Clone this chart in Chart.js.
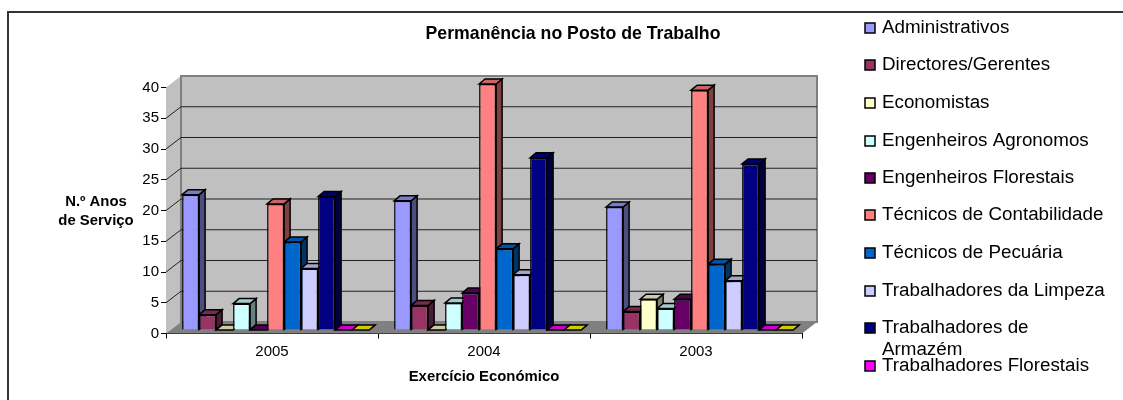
<!DOCTYPE html>
<html>
<head>
<meta charset="utf-8">
<script src="https://cdn.jsdelivr.net/npm/chart.js@4"></script>
<style>
  html, body { margin: 0; padding: 0; background: #fff; }
  canvas { display: block; }
</style>
</head>
<body>
<canvas id="chart" width="1123" height="400"></canvas>
<script>
const chartTitle = 'Permanência no Posto de Trabalho';
const xTitle = 'Exercício Económico';
const yTitleLines = ['N.º Anos', 'de Serviço'];
const years = ['2005', '2004', '2003'];

const administrativos = [22, 21, 20];
const directores = [2.5, 4, 3];
const economistas = [0, 0, 5];
const agronomos = [4.3, 4.4, 3.5];
const florestais = [0, 6, 5];
const contabilidade = [20.5, 40, 39];
const pecuaria = [14.3, 13.2, 10.7];
const limpeza = [10, 9, 8];
const armazem = [21.7, 28, 27];
const trabFlorestais = [0, 0, 0];
const semNome = [0, 0, 0];

const seriesNames = ['Administrativos', 'Directores/Gerentes', 'Economistas', 'Engenheiros Agronomos',
    'Engenheiros Florestais', 'Técnicos de Contabilidade', 'Técnicos de Pecuária',
    'Trabalhadores da Limpeza', 'Trabalhadores de Armazém', 'Trabalhadores Florestais', ''];
const seriesValues = [administrativos, directores, economistas, agronomos, florestais, contabilidade,
    pecuaria, limpeza, armazem, trabFlorestais, semNome];
const seriesColors = ['#9999ff', '#993366', '#ffffcc', '#ccffff', '#660066', '#ff8080',
    '#0066cc', '#ccccff', '#000080', '#ff00ff', '#ffff00'];
// legend rows: text centre y, the wrapped entry has two lines
const legendRows = [28, 65, 103, 141, 178, 215, 253, 291, 328, 366];

const FONT = '"Liberation Sans", Arial, sans-serif';
const WALL_DX = 15, WALL_DY = 11.5;     // depth of the gray box
const BAR_DX = 6, BAR_DY = 5;           // depth of each bar
const BAR_SHIFT_X = 3.6, BAR_SHIFT_Y = 3.5; // bars stand a little behind the axis plane

function shade(hex, k) {
    const n = parseInt(hex.slice(1), 16);
    return `rgb(${(n >> 16 & 255) * k},${(n >> 8 & 255) * k},${(n & 255) * k})`;
}

function poly(ctx, pts, fill, stroke, width) {
    ctx.beginPath();
    pts.forEach((p, i) => i ? ctx.lineTo(p[0], p[1]) : ctx.moveTo(p[0], p[1]));
    ctx.closePath();
    if (fill) { ctx.fillStyle = fill; ctx.fill(); }
    if (stroke) { ctx.strokeStyle = stroke; ctx.lineWidth = width; ctx.stroke(); }
}

const box3d = {
    id: 'box3d',
    beforeDraw(chart) {
        const ctx = chart.ctx;
        ctx.save();
        // frame runs off the right and bottom of the picture
        ctx.strokeStyle = '#333';
        ctx.lineWidth = 2;
        ctx.strokeRect(8, 12, 1200, 500);
        ctx.restore();
    },
    beforeDatasetsDraw(chart) {
        const ctx = chart.ctx;
        const { left, right, top, bottom } = chart.chartArea;
        const y = chart.scales.y;
        ctx.save();
        // side wall, back wall, floor
        poly(ctx, [[left, top], [left + WALL_DX, top - WALL_DY], [left + WALL_DX, bottom - WALL_DY], [left, bottom]], '#c0c0c0');
        poly(ctx, [[left + WALL_DX, top - WALL_DY], [right + WALL_DX, top - WALL_DY], [right + WALL_DX, bottom - WALL_DY], [left + WALL_DX, bottom - WALL_DY]], '#c0c0c0', '#808080', 2);
        poly(ctx, [[left, bottom], [left + WALL_DX, bottom - WALL_DY], [right + WALL_DX, bottom - WALL_DY], [right, bottom]], '#808080');
        // gridlines follow the ticks round the side wall and the back wall
        y.ticks.forEach(t => {
            const py = y.getPixelForValue(t.value);
            if (t.value === 0 || t.value === y.max) return;
            ctx.beginPath();
            ctx.moveTo(left, py);
            ctx.lineTo(left + WALL_DX, py - WALL_DY);
            ctx.lineTo(right + WALL_DX, py - WALL_DY);
            ctx.strokeStyle = '#222';
            ctx.lineWidth = 1;
            ctx.stroke();
        });
        ctx.restore();
        ctx.save();
        ctx.translate(BAR_SHIFT_X, -BAR_SHIFT_Y);
        // side and top faces of every bar, left to right
        chart.data.labels.forEach((label, i) => {
            chart.data.datasets.forEach((ds, d) => {
                const bar = chart.getDatasetMeta(d).data[i];
                const half = bar.width / 2;
                const x0 = bar.x - half, x1 = bar.x + half;
                const color = seriesColors[d];
                poly(ctx, [[x1, bar.y], [x1 + BAR_DX, bar.y - BAR_DY], [x1 + BAR_DX, bar.base - BAR_DY], [x1, bar.base]], shade(color, 0.5), '#000', 1.5);
                poly(ctx, [[x0, bar.y], [x0 + BAR_DX, bar.y - BAR_DY], [x1 + BAR_DX, bar.y - BAR_DY], [x1, bar.y]], shade(color, 0.8), '#000', 1.5);
            });
        });
    },
    afterDatasetsDraw(chart) {
        const ctx = chart.ctx;
        ctx.restore();
        ctx.save();
        ctx.fillStyle = '#000';
        ctx.textBaseline = 'middle';
        // title
        ctx.textAlign = 'center';
        ctx.font = 'bold 17.7px ' + FONT;
        ctx.fillText(chartTitle, 573, 34);
        // horizontal y axis title
        ctx.font = 'bold 14.9px ' + FONT;
        yTitleLines.forEach((line, i) => ctx.fillText(line, 96, 202 + i * 19));
        // legend, the last series has no entry in the picture
        ctx.textAlign = 'left';
        ctx.font = '18.8px ' + FONT;
        legendRows.forEach((rowY, i) => {
            ctx.fillStyle = seriesColors[i];
            ctx.strokeStyle = '#000';
            ctx.lineWidth = 1.5;
            ctx.fillRect(865, rowY - 5, 10, 10);
            ctx.strokeRect(865, rowY - 5, 10, 10);
            ctx.fillStyle = '#000';
            if (seriesNames[i] === 'Trabalhadores de Armazém') {
                ctx.fillText('Trabalhadores de', 882, rowY);
                ctx.fillText('Armazém', 882, rowY + 22);
            } else {
                ctx.fillText(seriesNames[i], 882, rowY);
            }
        });
        ctx.restore();
    }
};

new Chart(document.getElementById('chart').getContext('2d'), {
    type: 'bar',
    data: {
        labels: years,
        datasets: seriesNames.map((name, i) => ({
            label: name,
            data: seriesValues[i],
            backgroundColor: seriesColors[i],
            borderColor: '#000',
            borderWidth: 1.5,
            categoryPercentage: 0.882,
            barPercentage: 1
        }))
    },
    options: {
        responsive: false,
        animation: false,
        layout: { padding: { left: 120, right: 321, top: 87.5, bottom: 14.5 } },
        plugins: { legend: { display: false }, title: { display: false }, tooltip: { enabled: false } },
        scales: {
            x: {
                afterFit(s) { s.height = 52; },
                grid: { drawOnChartArea: false, color: '#000', tickLength: 5 },
                border: { color: '#000' },
                ticks: { color: '#000', padding: 4, font: { family: FONT, size: 15 }, maxRotation: 0 },
                title: { display: true, text: xTitle, color: '#000', padding: { top: 6, bottom: 0 }, font: { family: FONT, size: 14.9, weight: 'bold' } }
            },
            y: {
                min: 0,
                max: 40,
                afterFit(s) { s.width = 46; },
                grid: { drawOnChartArea: false, color: '#000', tickLength: 5 },
                border: { color: '#000' },
                ticks: { stepSize: 5, color: '#000', padding: 2, font: { family: FONT, size: 15 } }
            }
        }
    },
    plugins: [box3d]
});
</script>
</body>
</html>
